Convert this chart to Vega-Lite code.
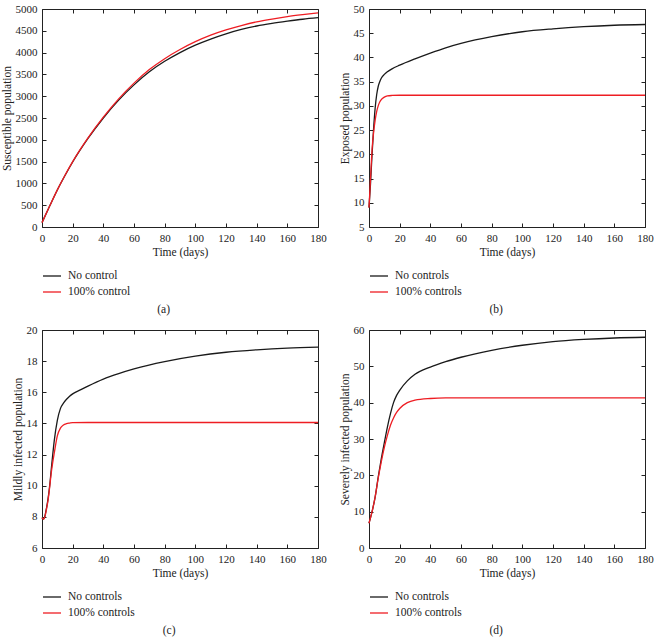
{
  "$schema": "https://vega.github.io/schema/vega-lite/v6.json",
  "background": "white",
  "padding": {"left": 1, "top": 3, "right": 0, "bottom": 0},
  "columns": 2,
  "spacing": {"row": 8, "column": 12},
  "resolve": {"scale": {"color": "independent"}, "legend": {"color": "independent"}},
  "config": {
    "font": "Liberation Serif",
    "view": {"stroke": null},
    "axis": {"labelFont": "Liberation Serif", "labelFontSize": 11, "labelColor": "#222", "titleFont": "Liberation Serif", "titleFontSize": 11.5, "titleFontWeight": "normal", "titleColor": "#222", "domainColor": "#222", "tickColor": "#222", "tickSize": -4, "labelPadding": 9, "titlePadding": 3, "grid": false, "domainWidth": 1, "tickWidth": 1, "format": "d", "labelFlush": false},
    "legend": {"labelFont": "Liberation Serif", "labelFontSize": 11.5, "labelColor": "#222", "symbolType": "stroke", "symbolSize": 324, "symbolStrokeWidth": 1.3, "labelOffset": 6, "rowPadding": -3, "offset": 8, "padding": 0},
    "title": {"font": "Liberation Serif", "fontSize": 11.5, "fontWeight": "normal", "color": "#222"}
  },
  "datasets": {
    "a": [
      {"t":0,"v":100,"series":"No control"},{"t":5,"v":480,"series":"No control"},{"t":10,"v":850,"series":"No control"},{"t":15,"v":1180,"series":"No control"},{"t":20,"v":1490,"series":"No control"},{"t":30,"v":2030,"series":"No control"},{"t":40,"v":2500,"series":"No control"},{"t":50,"v":2910,"series":"No control"},{"t":60,"v":3260,"series":"No control"},{"t":70,"v":3560,"series":"No control"},{"t":80,"v":3800,"series":"No control"},{"t":90,"v":4000,"series":"No control"},{"t":100,"v":4170,"series":"No control"},{"t":110,"v":4310,"series":"No control"},{"t":120,"v":4430,"series":"No control"},{"t":130,"v":4530,"series":"No control"},{"t":140,"v":4610,"series":"No control"},{"t":150,"v":4670,"series":"No control"},{"t":160,"v":4720,"series":"No control"},{"t":170,"v":4765,"series":"No control"},{"t":180,"v":4800,"series":"No control"},
      {"t":0,"v":100,"series":"100% control"},{"t":5,"v":480,"series":"100% control"},{"t":10,"v":852,"series":"100% control"},{"t":15,"v":1188,"series":"100% control"},{"t":20,"v":1500,"series":"100% control"},{"t":30,"v":2045,"series":"100% control"},{"t":40,"v":2520,"series":"100% control"},{"t":50,"v":2940,"series":"100% control"},{"t":60,"v":3300,"series":"100% control"},{"t":70,"v":3610,"series":"100% control"},{"t":80,"v":3860,"series":"100% control"},{"t":90,"v":4070,"series":"100% control"},{"t":100,"v":4250,"series":"100% control"},{"t":110,"v":4400,"series":"100% control"},{"t":120,"v":4520,"series":"100% control"},{"t":130,"v":4620,"series":"100% control"},{"t":140,"v":4705,"series":"100% control"},{"t":150,"v":4770,"series":"100% control"},{"t":160,"v":4825,"series":"100% control"},{"t":170,"v":4870,"series":"100% control"},{"t":180,"v":4910,"series":"100% control"}
    ],
    "b": [
      {"t":0,"v":9,"series":"No controls"},{"t":1,"v":14,"series":"No controls"},{"t":2,"v":20,"series":"No controls"},{"t":3,"v":25.3,"series":"No controls"},{"t":4,"v":29.5,"series":"No controls"},{"t":5,"v":32.3,"series":"No controls"},{"t":6,"v":34,"series":"No controls"},{"t":7,"v":35,"series":"No controls"},{"t":8,"v":35.7,"series":"No controls"},{"t":10,"v":36.5,"series":"No controls"},{"t":12,"v":37.05,"series":"No controls"},{"t":15,"v":37.65,"series":"No controls"},{"t":20,"v":38.4,"series":"No controls"},{"t":30,"v":39.7,"series":"No controls"},{"t":40,"v":40.9,"series":"No controls"},{"t":50,"v":42.0,"series":"No controls"},{"t":60,"v":42.9,"series":"No controls"},{"t":80,"v":44.3,"series":"No controls"},{"t":100,"v":45.3,"series":"No controls"},{"t":120,"v":45.9,"series":"No controls"},{"t":140,"v":46.35,"series":"No controls"},{"t":160,"v":46.65,"series":"No controls"},{"t":180,"v":46.8,"series":"No controls"},
      {"t":0,"v":9,"series":"100% controls"},{"t":1,"v":15,"series":"100% controls"},{"t":2,"v":21,"series":"100% controls"},{"t":3,"v":24.5,"series":"100% controls"},{"t":4,"v":27,"series":"100% controls"},{"t":5,"v":28.8,"series":"100% controls"},{"t":6,"v":30,"series":"100% controls"},{"t":7,"v":30.8,"series":"100% controls"},{"t":8,"v":31.3,"series":"100% controls"},{"t":10,"v":31.8,"series":"100% controls"},{"t":12,"v":32.05,"series":"100% controls"},{"t":15,"v":32.15,"series":"100% controls"},{"t":20,"v":32.2,"series":"100% controls"},{"t":40,"v":32.2,"series":"100% controls"},{"t":60,"v":32.2,"series":"100% controls"},{"t":80,"v":32.2,"series":"100% controls"},{"t":100,"v":32.2,"series":"100% controls"},{"t":120,"v":32.2,"series":"100% controls"},{"t":140,"v":32.2,"series":"100% controls"},{"t":160,"v":32.2,"series":"100% controls"},{"t":180,"v":32.2,"series":"100% controls"}
    ],
    "c": [
      {"t":0,"v":7.95,"series":"No controls"},{"t":1,"v":7.85,"series":"No controls"},{"t":2,"v":8.1,"series":"No controls"},{"t":3,"v":8.6,"series":"No controls"},{"t":4,"v":9.2,"series":"No controls"},{"t":5,"v":10,"series":"No controls"},{"t":6,"v":11,"series":"No controls"},{"t":7,"v":12,"series":"No controls"},{"t":8,"v":12.9,"series":"No controls"},{"t":10,"v":14.2,"series":"No controls"},{"t":12,"v":14.95,"series":"No controls"},{"t":14,"v":15.3,"series":"No controls"},{"t":16,"v":15.55,"series":"No controls"},{"t":18,"v":15.75,"series":"No controls"},{"t":20,"v":15.9,"series":"No controls"},{"t":25,"v":16.15,"series":"No controls"},{"t":30,"v":16.4,"series":"No controls"},{"t":40,"v":16.85,"series":"No controls"},{"t":50,"v":17.2,"series":"No controls"},{"t":60,"v":17.5,"series":"No controls"},{"t":80,"v":17.97,"series":"No controls"},{"t":100,"v":18.32,"series":"No controls"},{"t":120,"v":18.57,"series":"No controls"},{"t":140,"v":18.73,"series":"No controls"},{"t":160,"v":18.84,"series":"No controls"},{"t":180,"v":18.9,"series":"No controls"},
      {"t":0,"v":7.95,"series":"100% controls"},{"t":1,"v":7.85,"series":"100% controls"},{"t":2,"v":8.05,"series":"100% controls"},{"t":3,"v":8.55,"series":"100% controls"},{"t":4,"v":9.1,"series":"100% controls"},{"t":5,"v":9.9,"series":"100% controls"},{"t":6,"v":10.8,"series":"100% controls"},{"t":7,"v":11.5,"series":"100% controls"},{"t":8,"v":12.1,"series":"100% controls"},{"t":10,"v":13.2,"series":"100% controls"},{"t":12,"v":13.7,"series":"100% controls"},{"t":14,"v":13.9,"series":"100% controls"},{"t":16,"v":13.98,"series":"100% controls"},{"t":18,"v":14.02,"series":"100% controls"},{"t":20,"v":14.05,"series":"100% controls"},{"t":30,"v":14.06,"series":"100% controls"},{"t":60,"v":14.06,"series":"100% controls"},{"t":100,"v":14.06,"series":"100% controls"},{"t":140,"v":14.06,"series":"100% controls"},{"t":180,"v":14.06,"series":"100% controls"}
    ],
    "d": [
      {"t":0,"v":6.8,"series":"No controls"},{"t":2,"v":10,"series":"No controls"},{"t":4,"v":14,"series":"No controls"},{"t":6,"v":19.5,"series":"No controls"},{"t":8,"v":24.5,"series":"No controls"},{"t":10,"v":29,"series":"No controls"},{"t":12,"v":33.3,"series":"No controls"},{"t":14,"v":37,"series":"No controls"},{"t":16,"v":40,"series":"No controls"},{"t":18,"v":42,"series":"No controls"},{"t":20,"v":43.4,"series":"No controls"},{"t":25,"v":46,"series":"No controls"},{"t":30,"v":47.8,"series":"No controls"},{"t":40,"v":49.8,"series":"No controls"},{"t":50,"v":51.3,"series":"No controls"},{"t":60,"v":52.5,"series":"No controls"},{"t":80,"v":54.4,"series":"No controls"},{"t":100,"v":55.8,"series":"No controls"},{"t":120,"v":56.8,"series":"No controls"},{"t":140,"v":57.4,"series":"No controls"},{"t":160,"v":57.8,"series":"No controls"},{"t":180,"v":58,"series":"No controls"},
      {"t":0,"v":6.8,"series":"100% controls"},{"t":2,"v":10,"series":"100% controls"},{"t":4,"v":14,"series":"100% controls"},{"t":6,"v":19.2,"series":"100% controls"},{"t":8,"v":23.7,"series":"100% controls"},{"t":10,"v":27.7,"series":"100% controls"},{"t":12,"v":31,"series":"100% controls"},{"t":14,"v":33.8,"series":"100% controls"},{"t":16,"v":35.8,"series":"100% controls"},{"t":18,"v":37.3,"series":"100% controls"},{"t":20,"v":38.4,"series":"100% controls"},{"t":25,"v":40,"series":"100% controls"},{"t":30,"v":40.7,"series":"100% controls"},{"t":40,"v":41.15,"series":"100% controls"},{"t":50,"v":41.3,"series":"100% controls"},{"t":60,"v":41.3,"series":"100% controls"},{"t":100,"v":41.3,"series":"100% controls"},{"t":140,"v":41.3,"series":"100% controls"},{"t":180,"v":41.3,"series":"100% controls"}
    ]
  },
  "concat": [
    {
      "width": 276, "height": 218,
      "title": {"text": "(a)", "orient": "bottom", "anchor": "middle", "frame": "bounds", "offset": 6},
      "data": {"name": "a"},
      "layer": [
        {"mark": {"type": "line", "strokeWidth": 1.3, "interpolate": "monotone"},
         "encoding": {
           "x": {"field": "t", "type": "quantitative", "scale": {"domain": [0, 180], "nice": false}, "axis": {"orient": "bottom", "title": "Time (days)", "values": [0,20,40,60,80,100,120,140,160,180]}},
           "y": {"field": "v", "type": "quantitative", "scale": {"domain": [0, 5000], "nice": false}, "axis": {"orient": "left", "title": "Susceptible population", "values": [0,500,1000,1500,2000,2500,3000,3500,4000,4500,5000]}},
           "color": {"field": "series", "type": "nominal", "scale": {"domain": ["No control", "100% control"], "range": ["#1a1a1a", "#ee1d23"]}, "legend": {"title": null, "orient": "bottom", "direction": "vertical"}}
         }},
        {"mark": {"type": "line", "opacity": 0},
         "encoding": {
           "x": {"field": "t", "type": "quantitative", "axis": {"orient": "top", "title": null, "labels": false, "values": [0,20,40,60,80,100,120,140,160,180]}},
           "y": {"field": "v", "type": "quantitative", "axis": {"orient": "right", "title": null, "labels": false, "values": [0,500,1000,1500,2000,2500,3000,3500,4000,4500,5000]}},
           "detail": {"field": "series"}
         }}
      ],
      "resolve": {"axis": {"x": "independent", "y": "independent"}}
    },
    {
      "width": 276, "height": 218,
      "title": {"text": "(b)", "orient": "bottom", "anchor": "middle", "frame": "bounds", "offset": 6},
      "data": {"name": "b"},
      "layer": [
        {"mark": {"type": "line", "strokeWidth": 1.3, "interpolate": "monotone"},
         "encoding": {
           "x": {"field": "t", "type": "quantitative", "scale": {"domain": [0, 180], "nice": false}, "axis": {"orient": "bottom", "title": "Time (days)", "values": [0,20,40,60,80,100,120,140,160,180]}},
           "y": {"field": "v", "type": "quantitative", "scale": {"domain": [5, 50], "nice": false}, "axis": {"orient": "left", "title": "Exposed population", "values": [5,10,15,20,25,30,35,40,45,50]}},
           "color": {"field": "series", "type": "nominal", "scale": {"domain": ["No controls", "100% controls"], "range": ["#1a1a1a", "#ee1d23"]}, "legend": {"title": null, "orient": "bottom", "direction": "vertical"}}
         }},
        {"mark": {"type": "line", "opacity": 0},
         "encoding": {
           "x": {"field": "t", "type": "quantitative", "axis": {"orient": "top", "title": null, "labels": false, "values": [0,20,40,60,80,100,120,140,160,180]}},
           "y": {"field": "v", "type": "quantitative", "axis": {"orient": "right", "title": null, "labels": false, "values": [5,10,15,20,25,30,35,40,45,50]}},
           "detail": {"field": "series"}
         }}
      ],
      "resolve": {"axis": {"x": "independent", "y": "independent"}}
    },
    {
      "width": 276, "height": 218,
      "title": {"text": "(c)", "orient": "bottom", "anchor": "middle", "frame": "bounds", "offset": 6},
      "data": {"name": "c"},
      "layer": [
        {"mark": {"type": "line", "strokeWidth": 1.3, "interpolate": "monotone"},
         "encoding": {
           "x": {"field": "t", "type": "quantitative", "scale": {"domain": [0, 180], "nice": false}, "axis": {"orient": "bottom", "title": "Time (days)", "values": [0,20,40,60,80,100,120,140,160,180]}},
           "y": {"field": "v", "type": "quantitative", "scale": {"domain": [6, 20], "nice": false}, "axis": {"orient": "left", "title": "Mildly infected population", "values": [6,8,10,12,14,16,18,20]}},
           "color": {"field": "series", "type": "nominal", "scale": {"domain": ["No controls", "100% controls"], "range": ["#1a1a1a", "#ee1d23"]}, "legend": {"title": null, "orient": "bottom", "direction": "vertical"}}
         }},
        {"mark": {"type": "line", "opacity": 0},
         "encoding": {
           "x": {"field": "t", "type": "quantitative", "axis": {"orient": "top", "title": null, "labels": false, "values": [0,20,40,60,80,100,120,140,160,180]}},
           "y": {"field": "v", "type": "quantitative", "axis": {"orient": "right", "title": null, "labels": false, "values": [6,8,10,12,14,16,18,20]}},
           "detail": {"field": "series"}
         }}
      ],
      "resolve": {"axis": {"x": "independent", "y": "independent"}}
    },
    {
      "width": 276, "height": 218,
      "title": {"text": "(d)", "orient": "bottom", "anchor": "middle", "frame": "bounds", "offset": 6},
      "data": {"name": "d"},
      "layer": [
        {"mark": {"type": "line", "strokeWidth": 1.3, "interpolate": "monotone"},
         "encoding": {
           "x": {"field": "t", "type": "quantitative", "scale": {"domain": [0, 180], "nice": false}, "axis": {"orient": "bottom", "title": "Time (days)", "values": [0,20,40,60,80,100,120,140,160,180]}},
           "y": {"field": "v", "type": "quantitative", "scale": {"domain": [0, 60], "nice": false}, "axis": {"orient": "left", "title": "Severely infected population", "values": [0,10,20,30,40,50,60]}},
           "color": {"field": "series", "type": "nominal", "scale": {"domain": ["No controls", "100% controls"], "range": ["#1a1a1a", "#ee1d23"]}, "legend": {"title": null, "orient": "bottom", "direction": "vertical"}}
         }},
        {"mark": {"type": "line", "opacity": 0},
         "encoding": {
           "x": {"field": "t", "type": "quantitative", "axis": {"orient": "top", "title": null, "labels": false, "values": [0,20,40,60,80,100,120,140,160,180]}},
           "y": {"field": "v", "type": "quantitative", "axis": {"orient": "right", "title": null, "labels": false, "values": [0,10,20,30,40,50,60]}},
           "detail": {"field": "series"}
         }}
      ],
      "resolve": {"axis": {"x": "independent", "y": "independent"}}
    }
  ]
}
